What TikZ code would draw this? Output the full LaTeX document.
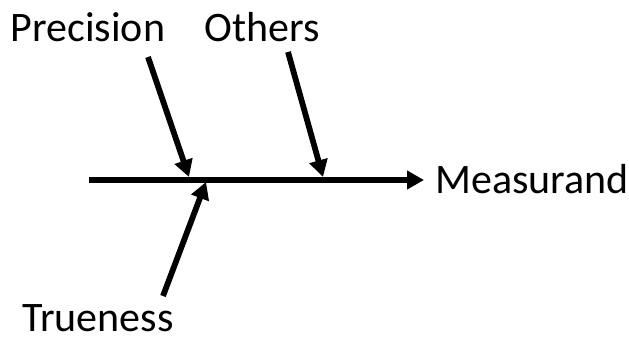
\documentclass[tikz,border=0pt]{standalone}
\usepackage{fontspec}
\setmainfont{Carlito}
\usetikzlibrary{arrows.meta}
\begin{document}
\begin{tikzpicture}[x=1pt,y=-1pt,
  lbl/.style={inner sep=0pt,font=\fontsize{42}{46}\selectfont},
  bone/.style={line width=5.8pt,-{Triangle[length=17pt,width=18pt]}}]
\useasboundingbox (0,0) rectangle (629,338);
% labels
\node[lbl,anchor=base] (prec) at (88,41) {Precision};
\node[lbl,anchor=base] (oth) at (262,41) {Others};
\node[lbl,anchor=base west] (meas) at (435,193) {Measurand};
\node[lbl,anchor=base] (true) at (98,331) {Trueness};
% spine and ribs
\coordinate (tail) at (89,180);
\coordinate (head) at (424,180);
\coordinate (p0) at (148,57);
\coordinate (p1) at (189,177);
\coordinate (o0) at (288,52);
\coordinate (o1) at (323,177);
\coordinate (t0) at (163,296);
\coordinate (t1) at (206,182);
\draw[bone] (tail) -- (head);
\draw[bone] (p0) -- (p1);
\draw[bone] (o0) -- (o1);
\draw[bone] (t0) -- (t1);
\end{tikzpicture}
\end{document}
